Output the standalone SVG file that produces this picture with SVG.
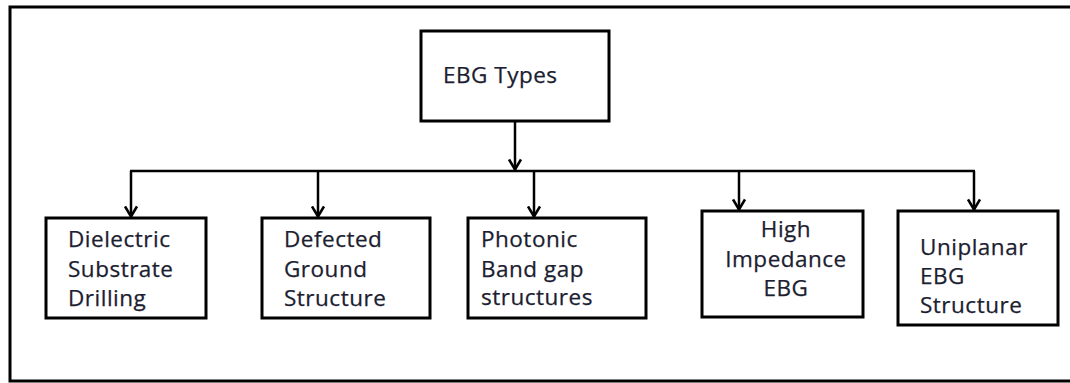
<svg xmlns="http://www.w3.org/2000/svg" width="1070" height="383" viewBox="0 0 1070 383">
  <style>
    .box { fill: #ffffff; stroke: #000000; stroke-width: 3; }
    .frame { fill: none; stroke: #000000; stroke-width: 3; }
    .wire { fill: none; stroke: #000000; stroke-width: 2.5; }
    .label { font-family: "Open Sans", "Liberation Sans", sans-serif; font-size: 22.5px; letter-spacing: 0.5px; fill: #1b2030; stroke: #1b2030; stroke-width: 0.25; }
    .mid { text-anchor: middle; }
  </style>
  <defs>
    <!-- open V arrowhead, drawn pointing along +x so orient="auto" follows the line -->
    <marker id="chevron" viewBox="0 0 14 14" refX="12.5" refY="7" markerWidth="14" markerHeight="14" markerUnits="userSpaceOnUse" orient="auto">
      <polyline points="2,1 12,7 2,13" fill="none" stroke="#000000" stroke-width="2.6"/>
    </marker>
  </defs>

  <rect width="1070" height="383" fill="#ffffff"/>
  <!-- outer border, open past the right edge -->
  <path class="frame" d="M1075,7 H10 V381 H1075"/>

  <g id="connectors">
    <line class="wire" x1="515" y1="121" x2="515" y2="170" marker-end="url(#chevron)"/>
    <line class="wire" x1="130" y1="171" x2="975" y2="171"/>
    <line class="wire" x1="131" y1="171" x2="131" y2="217" marker-end="url(#chevron)"/>
    <line class="wire" x1="318" y1="171" x2="318" y2="217" marker-end="url(#chevron)"/>
    <line class="wire" x1="534" y1="171" x2="534" y2="217" marker-end="url(#chevron)"/>
    <line class="wire" x1="739" y1="171" x2="739" y2="210" marker-end="url(#chevron)"/>
    <line class="wire" x1="974" y1="171" x2="974" y2="210" marker-end="url(#chevron)"/>
  </g>

  <g id="ebg-types">
    <rect class="box" x="421" y="31" width="188" height="90"/>
    <text class="label" x="443" y="83">EBG Types</text>
  </g>

  <g id="dielectric-substrate-drilling">
    <rect class="box" x="46" y="218" width="160" height="100"/>
    <text class="label" x="68" y="247">Dielectric</text>
    <text class="label" x="68" y="277">Substrate</text>
    <text class="label" x="68" y="306">Drilling</text>
  </g>

  <g id="defected-ground-structure">
    <rect class="box" x="262" y="218" width="168" height="100"/>
    <text class="label" x="284" y="247">Defected</text>
    <text class="label" x="284" y="277">Ground</text>
    <text class="label" x="284" y="306">Structure</text>
  </g>

  <g id="photonic-band-gap">
    <rect class="box" x="468" y="218" width="178" height="100"/>
    <text class="label" x="481" y="247">Photonic</text>
    <text class="label" x="481" y="277">Band gap</text>
    <text class="label" x="481" y="305">structures</text>
  </g>

  <g id="high-impedance-ebg">
    <rect class="box" x="702" y="211" width="161" height="106"/>
    <text class="label mid" x="786" y="237">High</text>
    <text class="label mid" x="786" y="267">Impedance</text>
    <text class="label mid" x="786" y="296">EBG</text>
  </g>

  <g id="uniplanar-ebg-structure">
    <rect class="box" x="898" y="211" width="160" height="114"/>
    <text class="label" x="920" y="255">Uniplanar</text>
    <text class="label" x="920" y="284">EBG</text>
    <text class="label" x="920" y="313">Structure</text>
  </g>
</svg>
